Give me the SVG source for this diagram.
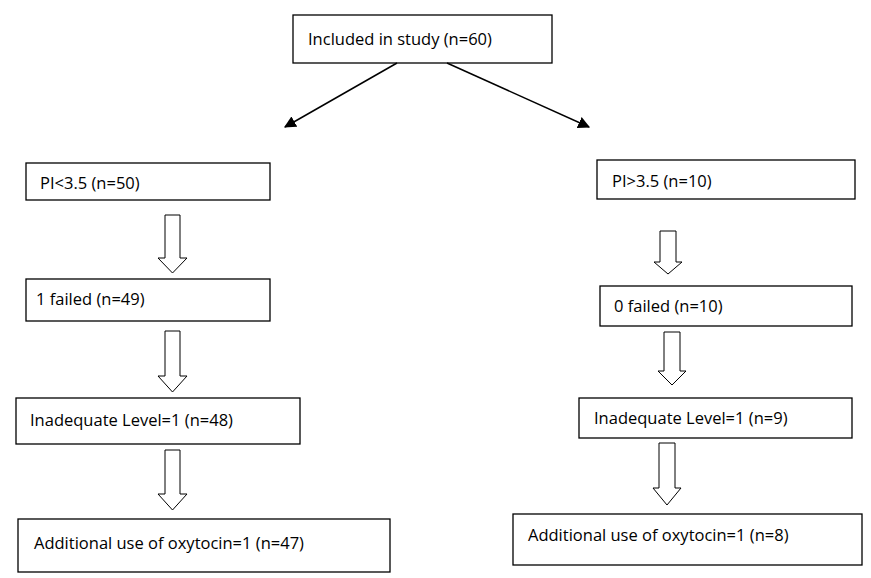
<svg xmlns="http://www.w3.org/2000/svg" width="871" height="578" viewBox="0 0 871 578">
<style>
.b{fill:#fff;stroke:#000;stroke-width:1.3}
.t{font-family:"Open Sans","Liberation Sans",sans-serif;font-size:16.5px;fill:#000}
.ba{fill:#fff;stroke:#000;stroke-width:1}
.ln{stroke:#000;stroke-width:1.5;fill:none}
</style>
<defs><marker id="ah" viewBox="0 0 10 10" refX="9" refY="5" markerWidth="9" markerHeight="9" markerUnits="userSpaceOnUse" orient="auto"><path d="M0,0L10,5L0,10z" fill="#000"/></marker>
<marker id="ah2" viewBox="0 0 10 10" refX="9" refY="5" markerWidth="12" markerHeight="12" markerUnits="userSpaceOnUse" orient="auto"><path d="M0,0L10,5L0,10z" fill="#000"/></marker></defs>
<rect width="871" height="578" fill="#fff"/>
<g id="n0"><rect class="b" x="293" y="15" width="259" height="48"/><text class="t" x="308" y="45">Included in study (n=60)</text></g>
<g id="n1"><rect class="b" x="26" y="163" width="244" height="37"/><text class="t" x="40" y="189">PI&lt;3.5 (n=50)</text></g>
<g id="n2"><rect class="b" x="26" y="279" width="244" height="42"/><text class="t" x="36" y="305">1 failed (n=49)</text></g>
<g id="n3"><rect class="b" x="16" y="398" width="284" height="46"/><text class="t" x="30" y="426">Inadequate Level=1 (n=48)</text></g>
<g id="n4"><rect class="b" x="18" y="519" width="372" height="53"/><text class="t" x="34" y="549">Additional use of oxytocin=1 (n=47)</text></g>
<g id="n5"><rect class="b" x="597" y="160" width="258" height="39"/><text class="t" x="612" y="187">PI&gt;3.5 (n=10)</text></g>
<g id="n6"><rect class="b" x="600" y="286" width="252" height="40"/><text class="t" x="614" y="312">0 failed (n=10)</text></g>
<g id="n7"><rect class="b" x="579" y="398" width="273" height="40"/><text class="t" x="594" y="424">Inadequate Level=1 (n=9)</text></g>
<g id="n8"><rect class="b" x="513" y="514" width="349" height="51"/><text class="t" x="528" y="541">Additional use of oxytocin=1 (n=8)</text></g>
<g id="connectors">
<line class="ln" x1="397" y1="63" x2="285" y2="127" marker-end="url(#ah2)"/>
<line class="ln" x1="447" y1="63" x2="589" y2="127" marker-end="url(#ah2)"/>
<path class="ba" d="M165,215H180V258H187L172.5,273L158,258H165Z"/>
<path class="ba" d="M165,331H180V376H187L172.5,392L158,376H165Z"/>
<path class="ba" d="M165,450H180V494H187L172.5,510L158,494H165Z"/>
<path class="ba" d="M660,231H676V262H682L668,274L654,262H660Z"/>
<path class="ba" d="M664,332H680V371H686L672,385L658,371H664Z"/>
<path class="ba" d="M659,443H675V488H681L667,505L653,488H659Z"/>
</g>
</svg>
